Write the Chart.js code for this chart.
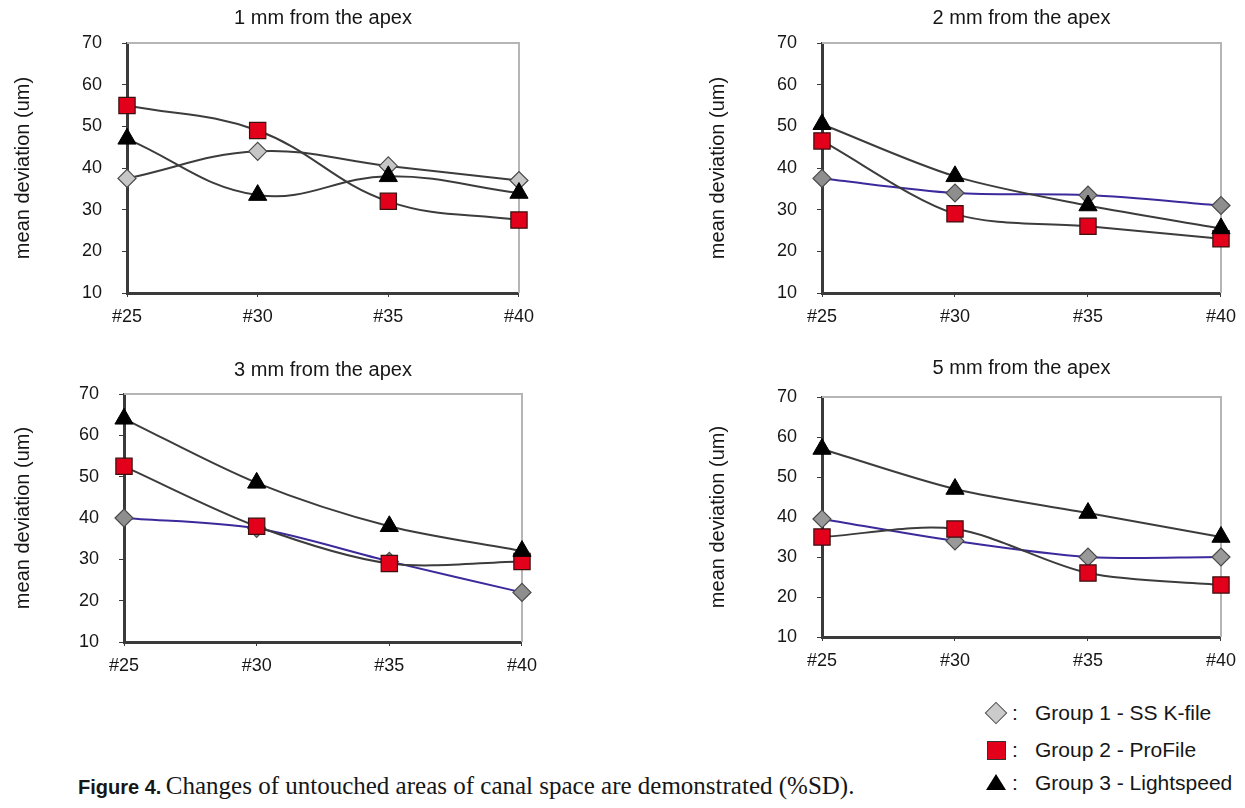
<!DOCTYPE html>
<html>
<head>
<meta charset="utf-8">
<title>Figure 4</title>
<script src="https://cdn.jsdelivr.net/npm/chart.js@4.4.1/dist/chart.umd.min.js"></script>
<style>
  html, body { margin: 0; padding: 0; background: #fff; }
  body { width: 1245px; height: 808px; position: relative; overflow: hidden;
         font-family: "Liberation Sans", Arial, sans-serif; color: #161616; }
  .panel { position: absolute; }
  .item { position: absolute; left: 985px; height: 26px; line-height: 26px; font-size: 21px; white-space: nowrap; }
  .mark { position: absolute; left: 0; }
  .colon { position: absolute; left: 27px; top: 0; }
  .label { position: absolute; left: 50px; top: 0; }
  .diamond { top: 5px; left: 3px; width: 14px; height: 14px; background: #cbcbcb; border: 1px solid #555; transform: rotate(45deg); }
  .square { top: 4px; left: 2px; width: 17px; height: 17px; background: #e2001a; border: 1px solid #333; }
  .triangle { top: 4px; left: 1px; width: 0; height: 0; border-left: 10px solid transparent;
              border-right: 10px solid transparent; border-bottom: 16px solid #000; }
  #caption { position: absolute; left: 78px; top: 771px; line-height: 30px; white-space: nowrap; }
  #caption b { font-family: "Liberation Sans", Arial, sans-serif; font-size: 20px; }
  #caption span { font-family: "Liberation Serif", "Times New Roman", serif; font-size: 25px; }
</style>
</head>
<body>

<div class="item" style="top:700px"><div class="mark diamond"></div><span class="colon">:</span><span class="label">Group 1 - SS K-file</span></div>
<div class="item" style="top:737px"><div class="mark square"></div><span class="colon">:</span><span class="label">Group 2 - ProFile</span></div>
<div class="item" style="top:770px"><div class="mark triangle"></div><span class="colon">:</span><span class="label">Group 3 - Lightspeed</span></div>

<div id="caption"><b>Figure 4.</b> <span>Changes of untouched areas of canal space are demonstrated (%SD).</span></div>

<script>
'use strict'

let categories = ['#25', '#30', '#35', '#40'];
let yMin = 10;
let yMax = 70;
let yStep = 10;
let axisTitle = 'mean deviation (um)';
let groupNames = ['Group 1 - SS K-file', 'Group 2 - ProFile', 'Group 3 - Lightspeed'];

// values
let group1At1mm = [37.5, 44, 40.5, 37];
let group2At1mm = [55, 49, 32, 27.5];
let group3At1mm = [47, 33.5, 38, 34];

let group1At2mm = [37.5, 34, 33.5, 31];
let group2At2mm = [46.5, 29, 26, 23];
let group3At2mm = [50.5, 38, 31, 25.5];

let group1At3mm = [40, 37.5, 29.5, 22];
let group2At3mm = [52.5, 38, 29, 29.5];
let group3At3mm = [64, 48.5, 38, 32];

let group1At5mm = [39.5, 34, 30, 30];
let group2At5mm = [35, 37, 26, 23];
let group3At5mm = [57, 47, 41, 35];

let fontFamily = '"Liberation Sans", Arial, sans-serif';
let textColor = '#161616';

// top and right edges of the plot box are lighter grey
let framePlugin = {
  id: 'frame',
  beforeDatasetsDraw(chart) {
    let ctx = chart.ctx;
    let a = chart.chartArea;
    ctx.save();
    ctx.strokeStyle = '#b5b5b5';
    ctx.lineWidth = 2;
    ctx.beginPath();
    ctx.moveTo(a.left, a.top);
    ctx.lineTo(a.right, a.top);
    ctx.lineTo(a.right, a.bottom);
    ctx.stroke();
    ctx.restore();
  }
};

let panels = [
  { title: '1 mm from the apex', series: [group1At1mm, group2At1mm, group3At1mm],
    left: 0, top: 0, width: 543, height: 340,
    plotLeft: 127, plotRight: 523, plotTop: 43, plotBottom: 293, titleY: 18,
    g1Line: '#3c3c3c', g1Fill: '#c6c6c6', tension: 0.4 },
  { title: '2 mm from the apex', series: [group1At2mm, group2At2mm, group3At2mm],
    left: 695, top: 0, width: 550, height: 340,
    plotLeft: 822, plotRight: 1227, plotTop: 43, plotBottom: 293, titleY: 18,
    g1Line: '#3b2a9c', g1Fill: '#8e8e8e', tension: 0.3 },
  { title: '3 mm from the apex', series: [group1At3mm, group2At3mm, group3At3mm],
    left: 0, top: 348, width: 546, height: 342,
    plotLeft: 124, plotRight: 526, plotTop: 394, plotBottom: 642, titleY: 370,
    g1Line: '#3b2a9c', g1Fill: '#8e8e8e', tension: 0.3 },
  { title: '5 mm from the apex', series: [group1At5mm, group2At5mm, group3At5mm],
    left: 695, top: 348, width: 550, height: 342,
    plotLeft: 822, plotRight: 1228, plotTop: 397, plotBottom: 637, titleY: 368,
    g1Line: '#3b2a9c', g1Fill: '#999999', tension: 0.3 }
];

function makePanel(p) {
  let box = document.createElement('div');
  box.className = 'panel';
  box.style.left = p.left + 'px';
  box.style.top = p.top + 'px';
  let canvas = document.createElement('canvas');
  canvas.width = p.width;
  canvas.height = p.height;
  canvas.style.width = p.width + 'px';
  canvas.style.height = p.height + 'px';
  box.appendChild(canvas);
  document.body.appendChild(box);

  let titleTop = p.titleY - p.top - 12;
  let titleBottom = (p.plotTop - p.top) - titleTop - 24;

  new Chart(canvas.getContext('2d'), {
    type: 'line',
    data: {
      labels: categories,
      datasets: [
        {
          label: groupNames[0],
          data: p.series[0],
          borderColor: p.g1Line,
          borderWidth: 2,
          tension: p.tension,
          pointStyle: 'rectRot',
          pointRadius: 9,
          pointBackgroundColor: p.g1Fill,
          pointBorderColor: '#4a4a4a',
          pointBorderWidth: 1.2,
          clip: false,
          order: 3
        },
        {
          label: groupNames[1],
          data: p.series[1],
          borderColor: '#3c3c3c',
          borderWidth: 2,
          tension: p.tension,
          pointStyle: 'rect',
          pointRadius: 11.5,
          pointBackgroundColor: '#e2001a',
          pointBorderColor: '#3a1010',
          pointBorderWidth: 1.2,
          clip: false,
          order: 2
        },
        {
          label: groupNames[2],
          data: p.series[2],
          borderColor: '#3c3c3c',
          borderWidth: 2,
          tension: p.tension,
          pointStyle: 'triangle',
          pointRadius: 10.5,
          pointBackgroundColor: '#000',
          pointBorderColor: '#000',
          pointBorderWidth: 1,
          clip: false,
          order: 1
        }
      ]
    },
    options: {
      responsive: false,
      animation: false,
      devicePixelRatio: 1,
      layout: { padding: { left: 0, top: 0, bottom: 0, right: p.left + p.width - p.plotRight } },
      plugins: {
        legend: { display: false },
        tooltip: { enabled: false },
        title: {
          display: true,
          text: p.title,
          fullSize: false,
          color: textColor,
          font: { family: fontFamily, size: 20, weight: 'normal' },
          padding: { top: titleTop, bottom: titleBottom }
        }
      },
      scales: {
        x: {
          type: 'category',
          offset: false,
          grid: { drawOnChartArea: false, drawTicks: true, tickLength: 4, color: '#3a3a3a' },
          border: { display: true, color: '#3a3a3a', width: 3 },
          ticks: { color: textColor, font: { family: fontFamily, size: 18 }, padding: 9, maxRotation: 0, autoSkip: false },
          afterFit(scale) { scale.height = p.top + p.height - p.plotBottom; }
        },
        y: {
          min: yMin,
          max: yMax,
          grid: { drawOnChartArea: false, drawTicks: true, tickLength: 5, color: '#3a3a3a' },
          border: { display: true, color: '#3a3a3a', width: 3 },
          ticks: { stepSize: yStep, color: textColor, font: { family: fontFamily, size: 18 }, padding: 20 },
          title: {
            display: true,
            text: axisTitle,
            color: textColor,
            font: { family: fontFamily, size: 20, weight: 'normal' },
            padding: { top: 11, bottom: 0 }
          },
          afterFit(scale) { scale.width = p.plotLeft - p.left; }
        }
      }
    },
    plugins: [framePlugin]
  });
}

for (let i = 0; i < panels.length; i++) {
  makePanel(panels[i]);
}
</script>
</body>
</html>
